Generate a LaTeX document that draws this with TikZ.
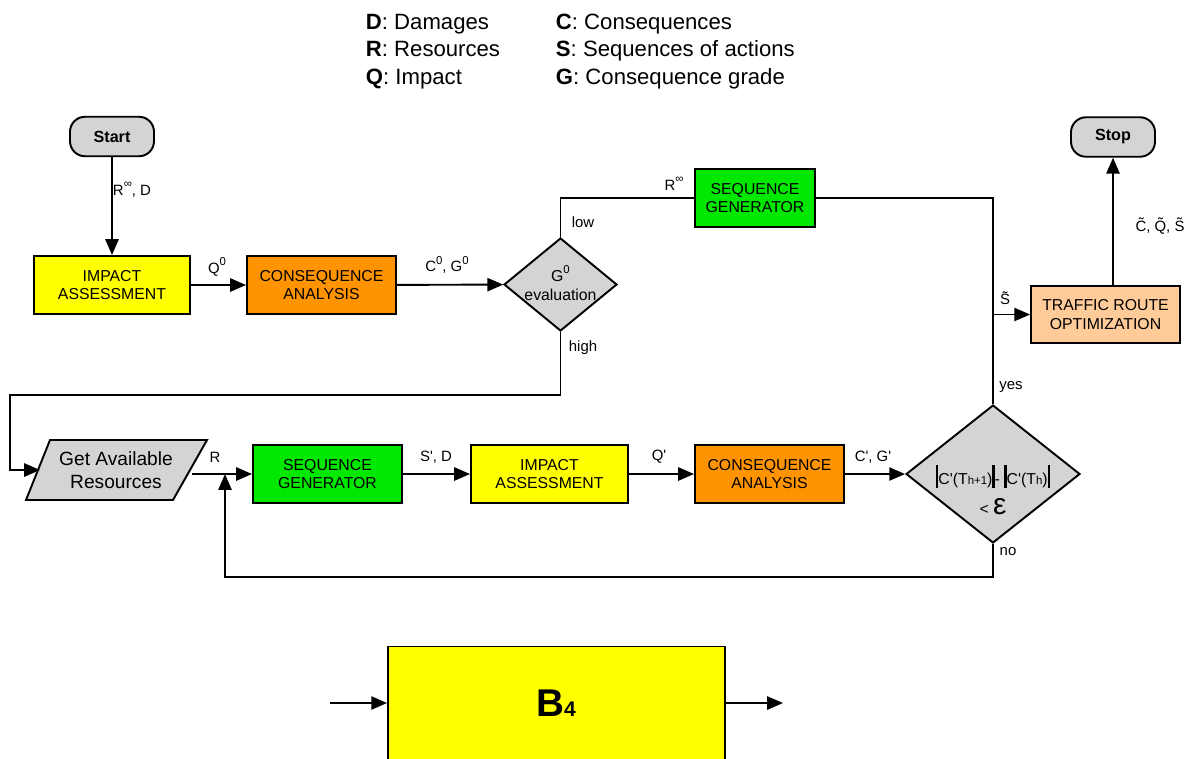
\documentclass[tikz,border=0pt]{standalone}
\usepackage{fontspec}
\usepackage{graphicx}
\setmainfont{Liberation Sans}
\usetikzlibrary{arrows.meta,shapes.geometric,calc}

\definecolor{boxyellow}{HTML}{FFFF00}
\definecolor{boxorange}{HTML}{FF9400}
\definecolor{boxgreen}{HTML}{00E800}
\definecolor{boxpeach}{HTML}{FFCC99}
\definecolor{boxgray}{HTML}{D4D4D4}

% prime, raised index and thick absolute-value bar
\newcommand{\pr}{\textquotesingle}
\newcommand{\supidx}[2]{#1\raisebox{1.0ex}{\fontsize{6.5}{7}\selectfont #2}}
\newcommand{\vbar}{\rule[-0.45ex]{1.3pt}{2.7ex}}

\begin{document}
\begin{tikzpicture}[x=0.02cm,y=-0.02cm,
  line width=1.1pt,
  procbox/.style={draw, rectangle, align=center, inner sep=1pt,
    minimum height=1.16cm, font=\fontsize{9}{10.5}\selectfont},
  termbox/.style={draw, rectangle, rounded corners=0.3cm, fill=boxgray,
    minimum width=1.68cm, minimum height=0.79cm,
    font=\fontsize{9.2}{11}\selectfont\bfseries},
  decision/.style={draw, diamond, fill=boxgray, inner sep=0pt},
  lbl/.style={inner sep=0pt, font=\fontsize{8.5}{10}\selectfont},
  legend/.style={anchor=base west, inner sep=0pt, font=\fontsize{12.6}{14}\selectfont},
  arr/.style={-{Triangle[length=9pt,width=7.5pt]}}]

\useasboundingbox (0,0) rectangle (1192,758);
\clip (0,0) rectangle (1192,758);

% legend
\node[legend] (lgD) at (365,29) {\textbf{D}: Damages};
\node[legend] (lgR) at (365,56.5) {\textbf{R}: Resources};
\node[legend] (lgQ) at (365,84) {\textbf{Q}: Impact};
\node[legend] (lgC) at (555,29) {\textbf{C}: Consequences};
\node[legend] (lgS) at (555,56.5) {\textbf{S}: Sequences of actions};
\node[legend] (lgG) at (555,84) {\textbf{G}: Consequence grade};

% first pass
\node[termbox] (start) at (112,136.5) {Start};
\node[procbox, fill=boxyellow, minimum width=3.12cm] (ia1) at (112,285) {IMPACT\\ASSESSMENT};
\node[procbox, fill=boxorange, minimum width=2.98cm] (ca1) at (321.5,285) {CONSEQUENCE\\ANALYSIS};
\node[decision, minimum width=2.26cm, minimum height=1.86cm] (d1) at (560.5,284.5) {};
\node[align=center, inner sep=0pt, font=\fontsize{9}{11}\selectfont] (d1txt) at (560.5,283)
  {\supidx{G}{0}\\evaluation};
\node[procbox, fill=boxgreen, minimum width=2.4cm] (sg1) at (755,198) {SEQUENCE\\GENERATOR};

% final optimisation
\node[procbox, fill=boxpeach, minimum width=2.98cm, minimum height=1.14cm] (tro) at (1105.5,314.5) {TRAFFIC ROUTE\\OPTIMIZATION};
\node[termbox] (stop) at (1113,137) {Stop};

% iterative loop
\draw[fill=boxgray] (26,500) -- (50,440) -- (207,440) -- (173,500) -- cycle;
\node[align=center, inner sep=0pt, minimum width=3.0cm, minimum height=1.2cm,
  font=\fontsize{10.9}{13}\selectfont] (gar) at (116,470) {Get Available\\Resources};
\node[procbox, fill=boxgreen, minimum width=2.98cm] (sg2) at (327.5,474) {SEQUENCE\\GENERATOR};
\node[procbox, fill=boxyellow, minimum width=3.14cm] (ia2) at (549.5,474) {IMPACT\\ASSESSMENT};
\node[procbox, fill=boxorange, minimum width=2.98cm] (ca2) at (769.5,474) {CONSEQUENCE\\ANALYSIS};
\node[decision, minimum width=3.48cm, minimum height=2.76cm] (d2) at (993,474) {};
\node[align=center, inner sep=0pt, font=\fontsize{9}{11}\selectfont] (d2txt) at (993,490)
  {\vbar C\pr(T{\fontsize{6.5}{7}\selectfont h+1})\vbar- \vbar C\pr(T{\fontsize{6.5}{7}\selectfont h})\vbar\\[5pt]
   < {\fontsize{17}{17}\selectfont ε}};
\coordinate (rj) at (225,474);
\coordinate (hi) at (10,395);

% block symbol
\node[draw, rectangle, fill=boxyellow, minimum width=6.74cm, minimum height=3.3cm] (b4) at (556.5,729) {};
\node[inner sep=0pt] (b4txt) at (556,703)
  {\bfseries\fontsize{22}{22}\selectfont B{\fontsize{12}{12}\selectfont 4}};
\coordinate (b4in) at (330,703);
\coordinate (b4out) at (783,703);

% connectors
\draw[arr] (start) -- (ia1);
\draw[arr] (ia1) -- (ca1);
\draw[arr] (ca1) -- (d1);
\draw (d1.north) |- (sg1.west);
\draw (sg1.east) -| (d2.north);
\draw[arr] (d2.north |- tro.west) -- (tro.west);
\draw[arr] (stop.south |- tro.north) -- (stop.south);
\draw[arr] (d1.south) |- (hi) |- (gar.west);
\draw[arr] (gar.east |- sg2.west) -- (sg2.west);
\draw[arr] (sg2) -- (ia2);
\draw[arr] (ia2) -- (ca2);
\draw[arr] (ca2) -- (d2);
\draw[arr] (d2.south) -- ++(0,33) -| (rj);
\draw[arr] (b4in) -- (b4.west |- b4in);
\draw[arr] (b4.east |- b4out) -- (b4out);

% connector labels
\node[lbl] (l1) at (132,190) {\supidx{R}{∞}, D};
\node[lbl] (l2) at (217,267) {\supidx{Q}{0}};
\node[lbl] (l3) at (447,265) {\supidx{C}{0}, \supidx{G}{0}};
\node[lbl] (l4) at (674,184) {\supidx{R}{∞}};
\node[lbl] (l5) at (583,222) {low};
\node[lbl] (l6) at (583,348) {high};
\node[lbl] (l7) at (1005,298) {\~{S}};
\node[lbl] (l8) at (1160,226) {\~{C}, \~{Q}, \~{S}};
\node[lbl] (l9) at (1011,387) {yes};
\node[lbl] (l10) at (1008,552) {no};
\node[lbl] (l11) at (215,457) {R};
\node[lbl] (l12) at (436,457) {S\pr, D};
\node[lbl] (l13) at (659,457) {Q\pr};
\node[lbl] (l14) at (873,457) {C\pr, G\pr};
\end{tikzpicture}
\end{document}
